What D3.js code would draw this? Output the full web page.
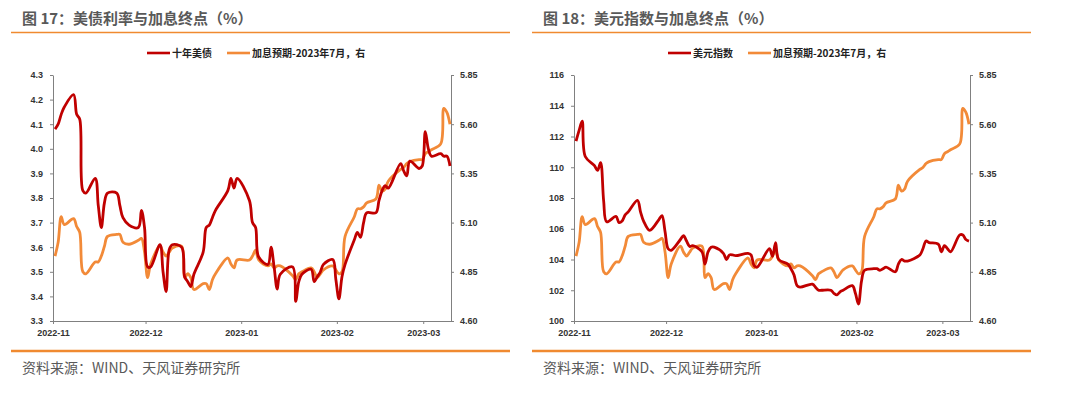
<!DOCTYPE html>
<html>
<head>
<meta charset="utf-8">
<script src="https://cdn.jsdelivr.net/npm/d3@7"></script>
<style>
  body { margin: 0; background: #fff; }
  svg { display: block; font-family: "Noto Sans CJK SC", "Liberation Sans", sans-serif; }
</style>
</head>
<body>
<svg id="chart" width="1080" height="395"></svg>
<script>
// trading days, Nov 2022 - Mar 2023
const tradeDates = [
  "2022-11-01","2022-11-02","2022-11-03","2022-11-04","2022-11-07","2022-11-08","2022-11-09","2022-11-10","2022-11-11",
  "2022-11-14","2022-11-15","2022-11-16","2022-11-17","2022-11-18","2022-11-21","2022-11-22","2022-11-23","2022-11-25",
  "2022-11-28","2022-11-29","2022-11-30",
  "2022-12-01","2022-12-02","2022-12-05","2022-12-06","2022-12-07","2022-12-08","2022-12-09","2022-12-12","2022-12-13",
  "2022-12-14","2022-12-15","2022-12-16","2022-12-19","2022-12-20","2022-12-21","2022-12-22","2022-12-23","2022-12-27",
  "2022-12-28","2022-12-29","2022-12-30",
  "2023-01-03","2023-01-04","2023-01-05","2023-01-06","2023-01-09","2023-01-10","2023-01-11","2023-01-12","2023-01-13",
  "2023-01-17","2023-01-18","2023-01-19","2023-01-20","2023-01-23","2023-01-24","2023-01-25","2023-01-26","2023-01-27",
  "2023-01-30","2023-01-31",
  "2023-02-01","2023-02-02","2023-02-03","2023-02-06","2023-02-07","2023-02-08","2023-02-09","2023-02-10","2023-02-13",
  "2023-02-14","2023-02-15","2023-02-16","2023-02-17","2023-02-21","2023-02-22","2023-02-23","2023-02-24","2023-02-27",
  "2023-02-28",
  "2023-03-01","2023-03-02","2023-03-03","2023-03-06","2023-03-07","2023-03-08","2023-03-09"
];

// 十年美债 (%)
const ust10y = [
  4.08,4.10,4.14,4.17,4.22,4.14,4.12,3.83,3.82,3.88,3.77,3.68,3.78,3.82,3.82,3.77,3.72,3.69,3.68,3.75,3.68,
  3.52,3.52,3.61,3.50,3.42,3.59,3.61,3.60,3.48,3.46,3.44,3.49,3.58,3.68,3.69,3.72,3.75,3.83,3.88,3.84,3.88,
  3.79,3.70,3.68,3.56,3.53,3.60,3.52,3.43,3.49,3.52,3.38,3.46,3.49,3.51,3.46,3.48,3.50,3.53,3.55,3.47,
  3.39,3.48,3.53,3.63,3.66,3.64,3.70,3.74,3.74,3.79,3.83,3.85,3.84,3.94,3.91,3.89,3.95,3.92,3.93,
  4.07,4.00,3.97,3.98,3.97,3.97,3.93
];

// 加息预期-2023年7月 (%), right axis
const hikeJul23 = [
  4.93,5.00,5.13,5.09,5.12,5.08,5.05,4.85,4.84,4.90,4.90,4.93,4.98,5.03,5.04,5.04,5.00,4.99,5.01,5.02,4.95,
  4.82,4.89,4.98,4.95,4.93,4.95,4.97,4.98,4.82,4.84,4.82,4.76,4.79,4.79,4.76,4.81,4.84,4.92,4.89,4.87,4.91,
  4.91,4.93,4.96,4.91,4.88,4.89,4.87,4.88,4.88,4.83,4.81,4.84,4.85,4.87,4.85,4.82,4.84,4.86,4.88,4.86,
  4.84,4.85,5.03,5.13,5.17,5.17,5.18,5.20,5.22,5.29,5.26,5.27,5.31,5.37,5.38,5.40,5.41,5.42,5.42,
  5.45,5.46,5.47,5.50,5.68,5.66,5.60
];

// 美元指数
const dxy = [
  111.7,112.4,113.0,110.7,110.1,109.8,110.3,107.8,106.45,106.8,106.4,106.5,106.9,107.1,107.85,107.1,106.5,105.9,106.6,106.85,105.8,
  104.7,104.6,105.3,105.55,105.2,104.85,104.9,104.5,103.7,104.5,104.8,104.8,104.4,104.0,104.3,104.3,104.25,104.4,104.3,103.6,103.5,
  104.7,104.2,105.1,104.0,103.7,103.4,103.0,102.3,102.2,102.4,102.2,102.0,102.0,102.0,101.8,101.7,101.9,102.0,102.3,101.8,
  101.1,102.6,103.3,103.4,103.4,103.3,103.4,103.5,103.2,103.7,104.0,103.9,103.9,104.3,104.7,105.2,105.1,105.0,104.5,
  104.9,104.7,104.5,105.6,105.6,105.3,105.2
];

const monthTicks = ["2022-11-01","2022-12-01","2023-01-01","2023-02-01","2023-03-01"];
const ustTicks = [3.3,3.4,3.5,3.6,3.7,3.8,3.9,4.0,4.1,4.2,4.3];
const dxyTicks = [100,102,104,106,108,110,112,114,116];
const hikeTicks = [4.60,4.85,5.10,5.35,5.60,5.85];

const RED = "#c00000", ORANGE = "#f28a38", RULE = "#f08a30";
const parse = d3.timeParse("%Y-%m-%d");
const svg = d3.select("#chart");

function drawPanel(p) {
  const g = svg.append("g");

  // title + rules
  g.append("text").attr("x", p.left + 11).attr("y", 24)
    .attr("font-size", 15).attr("font-weight", 700).attr("fill", "#595959")
    .text(p.title);
  g.append("line").attr("x1", p.left).attr("x2", p.left + 499).attr("y1", 32.5).attr("y2", 32.5)
    .attr("stroke", RULE).attr("stroke-width", 1.5);
  g.append("line").attr("x1", p.left).attr("x2", p.left + 499).attr("y1", 351).attr("y2", 351)
    .attr("stroke", RULE).attr("stroke-width", 2.5);
  g.append("text").attr("x", p.left + 11).attr("y", 373)
    .attr("font-size", 14).attr("fill", "#595959")
    .text("资料来源：WIND、天风证券研究所");

  const x = d3.scaleTime().domain([parse("2022-11-01"), parse("2023-03-10")]).range([p.x0, p.x1]);
  const yL = d3.scaleLinear().domain(p.leftDomain).range([321, 75]);
  const yR = d3.scaleLinear().domain([4.60, 5.85]).range([321, 75]);

  const axisStyle = sel => {
    sel.select(".domain").attr("stroke", "#808080");
    sel.selectAll(".tick line").attr("stroke", "#808080");
    sel.selectAll("text").attr("font-family", "'Liberation Sans', Arial, sans-serif")
      .attr("font-size", 9).attr("font-weight", 700).attr("fill", "#333");
  };

  g.append("g").attr("transform", `translate(0,321)`)
    .call(d3.axisBottom(x).tickValues(monthTicks.map(parse)).tickFormat(d3.timeFormat("%Y-%m"))
      .tickSizeInner(3).tickSizeOuter(0).tickPadding(6))
    .call(axisStyle);
  g.append("g").attr("transform", `translate(${p.x0},0)`)
    .call(d3.axisLeft(yL).tickValues(p.leftTicks).tickFormat(p.leftFmt)
      .tickSizeInner(3).tickSizeOuter(0).tickPadding(7))
    .call(axisStyle);
  g.append("g").attr("transform", `translate(${p.x1},0)`)
    .call(d3.axisRight(yR).tickValues(hikeTicks).tickFormat(d3.format(".2f"))
      .tickSizeInner(3).tickSizeOuter(0).tickPadding(6))
    .call(axisStyle);

  // series: points sit a little after the day start, as in the source
  const rows = tradeDates.map((d, i) => ({ date: d3.timeHour.offset(parse(d), 16), l: p.leftData[i], r: hikeJul23[i] }));
  const curve = d3.curveCatmullRom.alpha(0.5);
  g.append("path").datum(rows)
    .attr("fill", "none").attr("stroke", ORANGE).attr("stroke-width", 2.8).attr("stroke-linejoin", "round")
    .attr("d", d3.line().x(d => x(d.date)).y(d => yR(d.r)).curve(curve));
  g.append("path").datum(rows)
    .attr("fill", "none").attr("stroke", RED).attr("stroke-width", 2.8).attr("stroke-linejoin", "round")
    .attr("d", d3.line().x(d => x(d.date)).y(d => yL(d.l)).curve(curve));

  // legend
  const legend = [{ name: p.leftName, color: RED }, { name: "加息预期-2023年7月，右", color: ORANGE }];
  const lg = g.selectAll(".lg").data(legend).join("g")
    .attr("transform", (d, i) => `translate(${p.x0 + 94 + i * 80},53)`);
  lg.append("line").attr("x1", 0).attr("x2", 23).attr("stroke", d => d.color).attr("stroke-width", 2.6);
  lg.append("text").attr("x", 25).attr("dy", "0.35em")
    .attr("font-size", 10).attr("font-weight", 700).attr("fill", "#222")
    .text(d => d.name);
}

drawPanel({
  left: 11, x0: 53, x1: 451,
  title: "图 17：美债利率与加息终点（%）",
  leftName: "十年美债", leftData: ust10y,
  leftDomain: [3.3, 4.3], leftTicks: ustTicks, leftFmt: d3.format(".1f")
});
drawPanel({
  left: 532, x0: 574, x1: 970,
  title: "图 18：美元指数与加息终点（%）",
  leftName: "美元指数", leftData: dxy,
  leftDomain: [100, 116], leftTicks: dxyTicks, leftFmt: d3.format("d")
});
</script>
</body>
</html>
